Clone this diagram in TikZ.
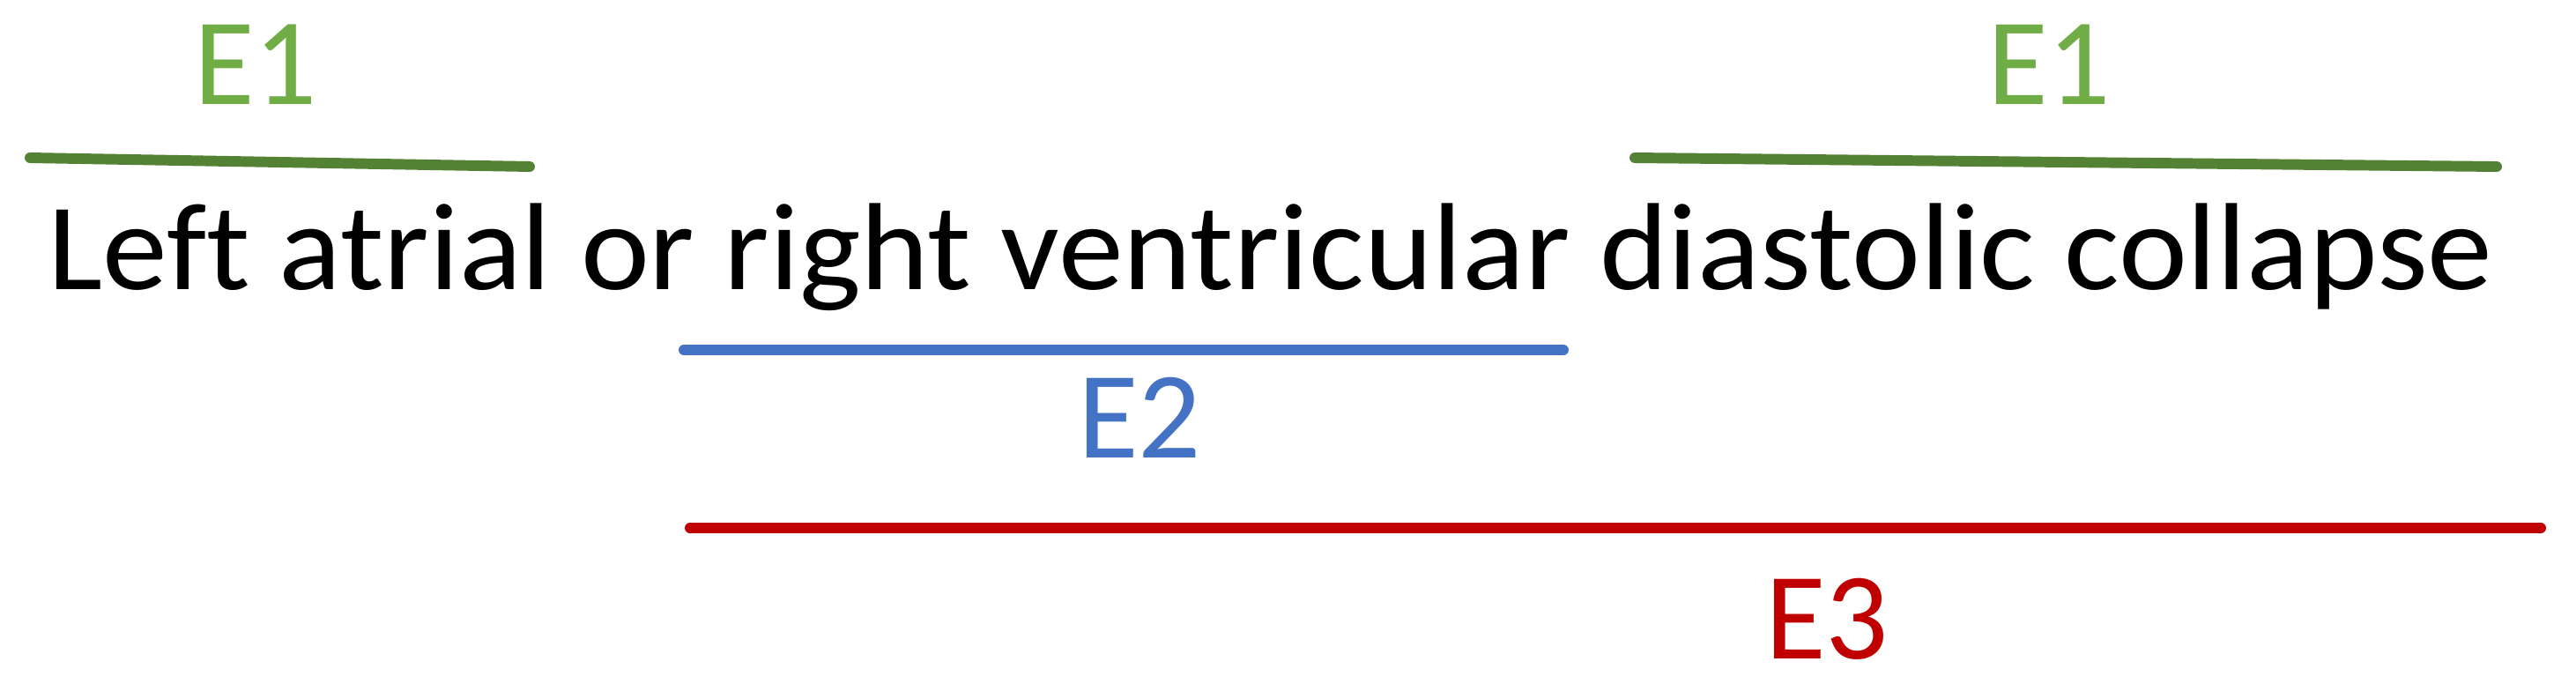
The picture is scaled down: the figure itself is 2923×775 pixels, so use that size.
\documentclass[tikz,border=0pt]{standalone}
\usepackage{fontspec}
\setmainfont{Carlito}[Ligatures=NoCommon]
\newfontfamily\satzfont{Carlito}[Ligatures=NoCommon, FakeStretch=1.05]
\usepackage{xcolor}
\usepackage{tikz}
\usetikzlibrary{positioning,calc}

\definecolor{eonetext}{HTML}{70AD47}
\definecolor{eoneline}{HTML}{548235}
\definecolor{etwo}{HTML}{4472C4}
\definecolor{ethree}{HTML}{C00000}

\tikzset{
    spanline/.style={line width=3.4pt, line cap=round},
    elabel/.style={anchor=base, inner sep=0pt, font=\fontsize{40}{48}\selectfont},
}

\begin{document}
\begin{tikzpicture}[x=0.01cm, y=-0.01cm]
        % Umgebung
        \useasboundingbox (0,0) rectangle (2923,775);
        
        % Satz
        \node[anchor=base west, inner sep=0pt, font=\satzfont\fontsize{40}{48}\selectfont] (satz) at (54, 328) {Left atrial or right ventricular diastolic collapse};
        
        % Endpunkte der Linien
        \coordinate (ga1) at (34, 179);
        \coordinate (gb1) at (601, 189);
        \coordinate (ga2) at (1855, 179);
        \coordinate (gb2) at (2833, 189);
        \coordinate (b1) at (776, 397);
        \coordinate (b2) at (1774, 397);
        \coordinate (r1) at (783, 599);
        \coordinate (r2) at (2883, 599);
        
        % E1
        \draw[spanline, eoneline] (ga1) -- (gb1);
        \draw[spanline, eoneline] (ga2) -- (gb2);
        \node[elabel, eonetext] (eonel) at (290, 118) {E1};
        \node[elabel, eonetext] (eoner) at (2325, 118) {E1};
        
        % E2
        \draw[spanline, etwo] (b1) -- (b2);
        \node[elabel, etwo] (etwol) at (1293, 519) {E2};
        
        % E3
        \draw[spanline, ethree] (r1) -- (r2);
        \node[elabel, ethree] (ethreel) at (2073, 747) {E3};
        
    \end{tikzpicture}
\end{document}
